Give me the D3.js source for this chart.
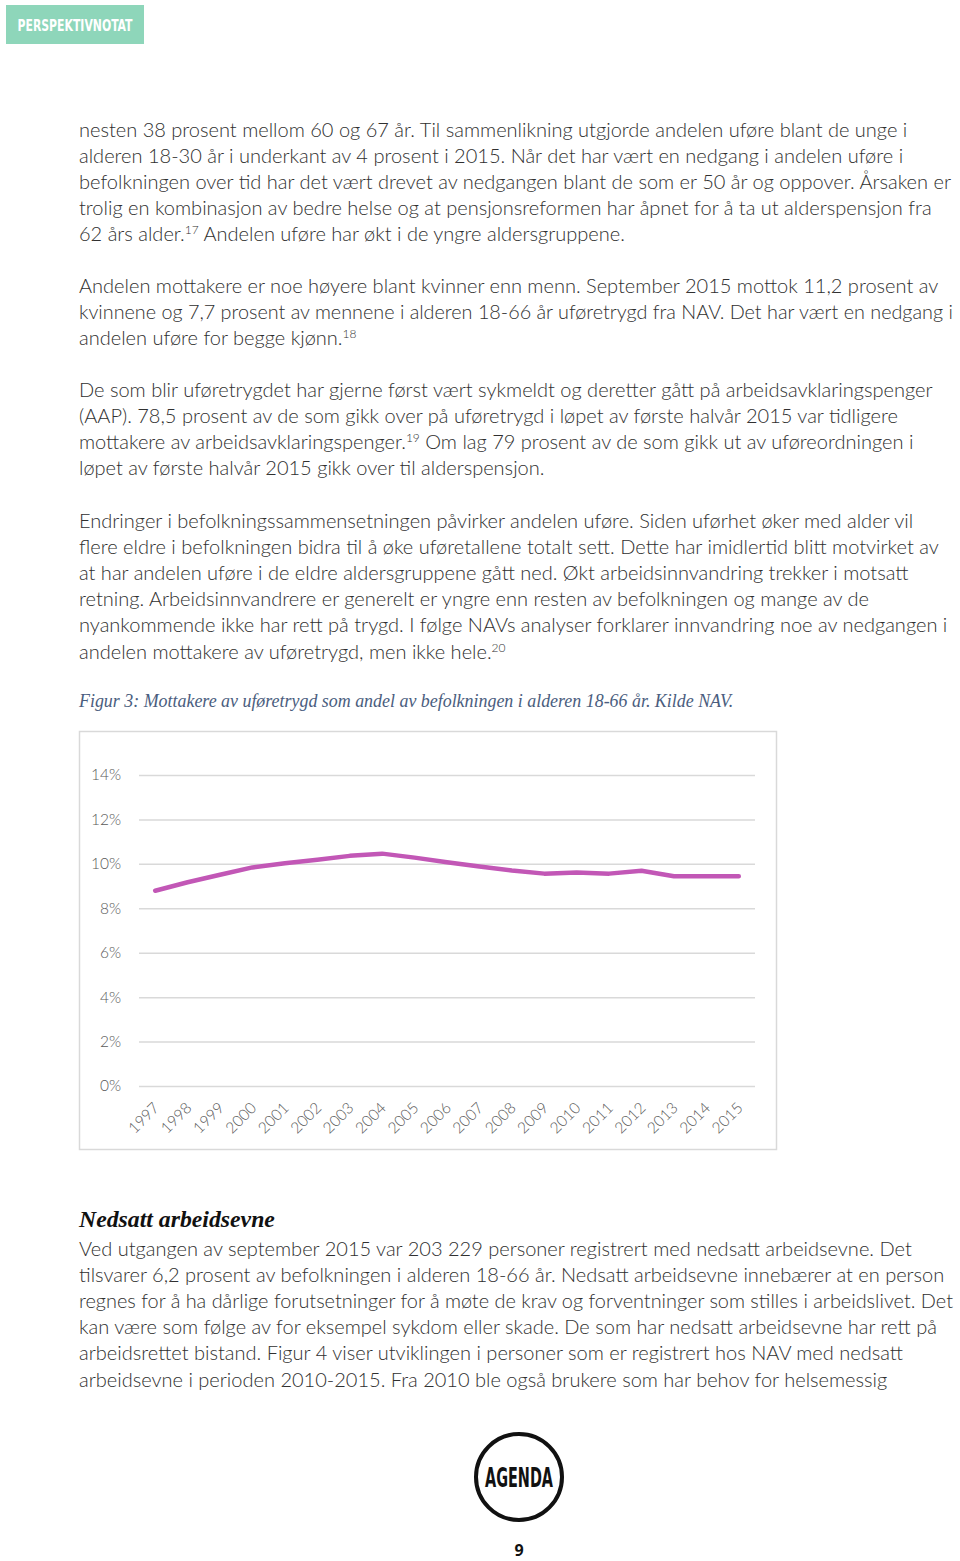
<!DOCTYPE html>
<html><head><meta charset="utf-8">
<script src="https://cdn.jsdelivr.net/npm/d3@7"></script>
<style>
html,body{margin:0;padding:0;background:#fff;}
svg{display:block;}
</style></head>
<body>
<script>
// ---- chart data ----
const years = ["1997","1998","1999","2000","2001","2002","2003","2004","2005","2006","2007","2008","2009","2010","2011","2012","2013","2014","2015"];
const shareDisabled = [8.79,9.17,9.51,9.84,10.03,10.18,10.36,10.46,10.28,10.07,9.88,9.70,9.56,9.61,9.56,9.69,9.44,9.44,9.44];
const yTicks = [0,2,4,6,8,10,12,14];
const caption = "Figur 3: Mottakere av uføretrygd som andel av befolkningen i alderen 18-66 år. Kilde NAV.";

// ---- page text ----
const para1 = [
 "nesten 38 prosent mellom 60 og 67 år. Til sammenlikning utgjorde andelen uføre blant de unge i",
 "alderen 18-30 år i underkant av 4 prosent i 2015. Når det har vært en nedgang i andelen uføre i",
 "befolkningen over tid har det vært drevet av nedgangen blant de som er 50 år og oppover. Årsaken er",
 "trolig en kombinasjon av bedre helse og at pensjonsreformen har åpnet for å ta ut alderspensjon fra",
 "62 års alder.^17^ Andelen uføre har økt i de yngre aldersgruppene."];
const para2 = [
 "Andelen mottakere er noe høyere blant kvinner enn menn. September 2015 mottok 11,2 prosent av",
 "kvinnene og 7,7 prosent av mennene i alderen 18-66 år uføretrygd fra NAV. Det har vært en nedgang i",
 "andelen uføre for begge kjønn.^18^"];
const para3 = [
 "De som blir uføretrygdet har gjerne først vært sykmeldt og deretter gått på arbeidsavklaringspenger",
 "(AAP). 78,5 prosent av de som gikk over på uføretrygd i løpet av første halvår 2015 var tidligere",
 "mottakere av arbeidsavklaringspenger.^19^ Om lag 79 prosent av de som gikk ut av uføreordningen i",
 "løpet av første halvår 2015 gikk over til alderspensjon."];
const para4 = [
 "Endringer i befolkningssammensetningen påvirker andelen uføre. Siden uførhet øker med alder vil",
 "flere eldre i befolkningen bidra til å øke uføretallene totalt sett. Dette har imidlertid blitt motvirket av",
 "at har andelen uføre i de eldre aldersgruppene gått ned. Økt arbeidsinnvandring trekker i motsatt",
 "retning. Arbeidsinnvandrere er generelt er yngre enn resten av befolkningen og mange av de",
 "nyankommende ikke har rett på trygd. I følge NAVs analyser forklarer innvandring noe av nedgangen i",
 "andelen mottakere av uføretrygd, men ikke hele.^20^"];
const para5 = [
 "Ved utgangen av september 2015 var 203 229 personer registrert med nedsatt arbeidsevne. Det",
 "tilsvarer 6,2 prosent av befolkningen i alderen 18-66 år. Nedsatt arbeidsevne innebærer at en person",
 "regnes for å ha dårlige forutsetninger for å møte de krav og forventninger som stilles i arbeidslivet. Det",
 "kan være som følge av for eksempel sykdom eller skade. De som har nedsatt arbeidsevne har rett på",
 "arbeidsrettet bistand. Figur 4 viser utviklingen i personer som er registrert hos NAV med nedsatt",
 "arbeidsevne i perioden 2010-2015. Fra 2010 ble også brukere som har behov for helsemessig"];

const W = 960, H = 1561;
const svg = d3.select("body").append("svg").attr("width", W).attr("height", H);
svg.append("rect").attr("width", W).attr("height", H).attr("fill", "#fff");

// header badge
svg.append("rect").attr("x", 6).attr("y", 5).attr("width", 138).attr("height", 39).attr("fill", "#8ed6ba");
svg.append("text").attr("x", 75).attr("y", 31).attr("text-anchor", "middle")
  .attr("font-family", "DejaVu Sans Condensed, DejaVu Sans").attr("font-weight", "bold")
  .attr("font-size", 15).attr("fill", "#fff").text("PERSPEKTIVNOTAT")
  .attr("textLength", 115).attr("lengthAdjust", "spacingAndGlyphs");

// body text
const bodyFont = "Lato, 'Open Sans', sans-serif";
const bodyColor = "#303030";
const textG = svg.append("g").attr("font-family", bodyFont).attr("font-weight", 300).attr("fill", bodyColor);
let fs = 18;
const maxLineW = 874;
function addLine(str, x, y) {
  const t = textG.append("text").attr("x", x).attr("y", y).attr("font-size", fs);
  const parts = str.split("^");
  parts.forEach((p, i) => {
    if (!p) return;
    if (i % 2 === 1) {
      t.append("tspan").attr("baseline-shift", "super").attr("font-size", fs * 0.6).text(p);
    } else {
      t.append("tspan").text(p);
    }
  });
  const w = t.node().getComputedTextLength();
  if (w > maxLineW) t.attr("font-size", fs * maxLineW / w).selectAll("tspan").each(function () {
    const s = d3.select(this);
    if (s.attr("baseline-shift")) s.attr("font-size", fs * maxLineW / w * 0.6);
  });
  return t;
}
// calibrate font size so that the first line spans ~829px
{
  const probe = textG.append("text").attr("font-size", 18).text(para1[0]);
  const w = probe.node().getComputedTextLength();
  probe.remove();
  fs = 18 * 829 / w;
}
function addPara(lines, y0) {
  lines.forEach((l, i) => addLine(l, 79, y0 + i * 26.1));
}
addPara(para1, 137);
addPara(para2, 293);
addPara(para3, 397);
addPara(para4, 528);
addPara(para5, 1256);

// caption
const cap = svg.append("text").attr("x", 79).attr("y", 707)
  .attr("font-family", "'Liberation Serif', 'DejaVu Serif', serif").attr("font-style", "italic")
  .attr("font-size", 16).attr("fill", "#4a5d7e").text(caption);
{ const w = cap.node().getComputedTextLength(); cap.attr("font-size", 16 * 655 / w); }

// heading
const hd = svg.append("text").attr("x", 79).attr("y", 1227)
  .attr("font-family", "'Liberation Serif', 'DejaVu Serif', serif").attr("font-style", "italic")
  .attr("font-weight", "bold").attr("font-size", 20).attr("fill", "#111").text("Nedsatt arbeidsevne");
{ const w = hd.node().getComputedTextLength(); hd.attr("font-size", 20 * 196 / w); }

// ---- chart ----
svg.append("rect").attr("x", 79.5).attr("y", 731.5).attr("width", 697).attr("height", 418)
  .attr("fill", "#fff").attr("stroke", "#d9d9d9").attr("stroke-width", 1.5);

const x = d3.scaleBand().domain(years).range([139, 755]);
const y = d3.scaleLinear().domain([0, 14]).range([1086, 775]);
const cx = d => x(d) + x.bandwidth() / 2;
const chartFont = "Lato, 'Open Sans', sans-serif";

const yAxis = d3.axisLeft(y).tickValues(yTicks).tickSize(-(755 - 139)).tickPadding(18)
  .tickFormat(d => d + "%");
const gy = svg.append("g").attr("transform", "translate(139,0)").call(yAxis);
gy.select(".domain").remove();
gy.selectAll(".tick line").attr("stroke", "#d9d9d9").attr("stroke-width", 1.5);
gy.selectAll(".tick text").attr("font-family", chartFont).attr("font-weight", 300).attr("font-size", 15.5).attr("fill", "#595959");

const xAxis = d3.axisBottom(x).tickSize(0).tickPadding(0);
const gx = svg.append("g").attr("transform", "translate(0,1086)").call(xAxis);
gx.select(".domain").remove();
gx.selectAll(".tick text").attr("font-family", chartFont).attr("font-weight", 300).attr("font-size", 15.5).attr("fill", "#595959")
  .attr("text-anchor", "end").attr("dy", null).attr("y", 0)
  .attr("transform", "translate(5,23) rotate(-45)");

const line = d3.line().x((d, i) => cx(years[i])).y(d => y(d));
svg.append("path").datum(shareDisabled).attr("d", line)
  .attr("fill", "none").attr("stroke", "#c257b6").attr("stroke-width", 4.5)
  .attr("stroke-linejoin", "round").attr("stroke-linecap", "round");

// ---- footer logo ----
svg.append("circle").attr("cx", 519).attr("cy", 1477).attr("r", 43).attr("fill", "none")
  .attr("stroke", "#111").attr("stroke-width", 4);
svg.append("text").attr("x", 519).attr("y", 1487).attr("text-anchor", "middle")
  .attr("font-family", "DejaVu Sans Condensed, DejaVu Sans").attr("font-weight", "bold")
  .attr("font-size", 26).attr("fill", "#111").text("AGENDA")
  .attr("textLength", 68).attr("lengthAdjust", "spacingAndGlyphs");
svg.append("text").attr("x", 519).attr("y", 1556).attr("text-anchor", "middle")
  .attr("font-family", "'Open Sans', sans-serif").attr("font-weight", "bold")
  .attr("font-size", 16).attr("fill", "#111").text("9");
</script>
</body></html>
